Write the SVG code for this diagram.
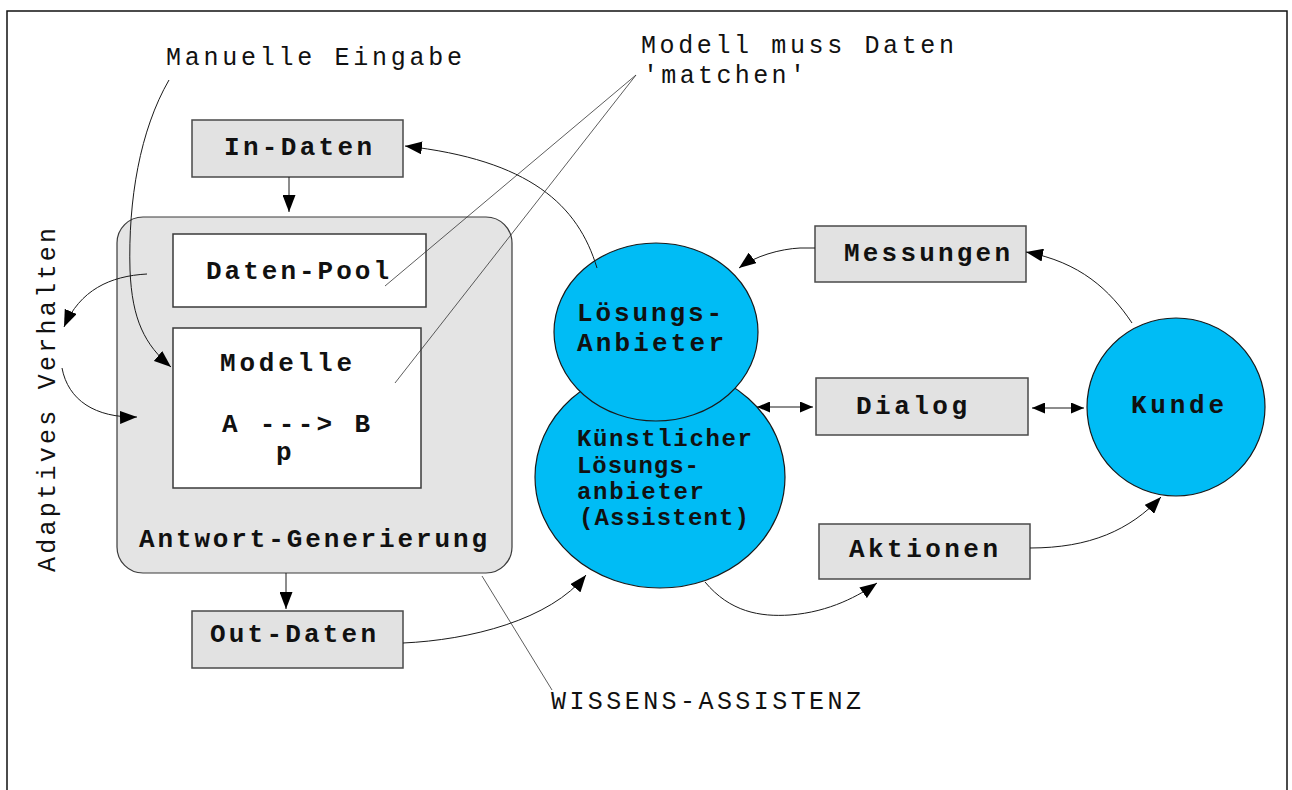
<svg xmlns="http://www.w3.org/2000/svg" width="1292" height="790" viewBox="0 0 1292 790">
  <style>
    .t { font-family: "Liberation Mono", "DejaVu Sans Mono", monospace; font-size: 25px; fill: #111; }
    .b { font-family: "Liberation Mono", "DejaVu Sans Mono", monospace; font-size: 26px; font-weight: bold; fill: #111; }
    .bs { font-family: "Liberation Mono", "DejaVu Sans Mono", monospace; font-size: 24px; font-weight: bold; fill: #111; }
    .box { fill: #e2e2e2; stroke: #4a4a4a; stroke-width: 1.5; }
    .white { fill: #ffffff; stroke: #3a3a3a; stroke-width: 1.5; }
    .panel { fill: #e4e4e4; stroke: #3a3a3a; stroke-width: 1.2; }
    .bubble { fill: #00bcf5; stroke: #1a1a1a; stroke-width: 1.2; }
    .c { fill: none; stroke: #1a1a1a; stroke-width: 1; }
    .lead { fill: none; stroke: #333; stroke-width: 0.8; }
  </style>
  <defs>
    <marker id="ah" viewBox="0 0 17 13" refX="17" refY="6.5" markerWidth="17" markerHeight="13" markerUnits="userSpaceOnUse" orient="auto">
      <path d="M0,0 L17,6.5 L0,13 z" fill="#000"/>
    </marker>
    <marker id="ahs" viewBox="0 0 13 11" refX="13" refY="5.5" markerWidth="13" markerHeight="11" markerUnits="userSpaceOnUse" orient="auto-start-reverse">
      <path d="M0,0 L13,5.5 L0,11 z" fill="#000"/>
    </marker>
  </defs>

  <rect width="1292" height="790" fill="#ffffff"/>
  <!-- frame (open at the bottom) -->
  <path d="M7,791 V11 H1287 V791" fill="none" stroke="#111" stroke-width="1.5"/>

  <!-- free labels -->
  <text class="t" x="166" y="65" textLength="296" lengthAdjust="spacing">Manuelle Eingabe</text>
  <text class="t" x="641" y="53" textLength="313" lengthAdjust="spacing">Modell muss Daten</text>
  <text class="t" x="643" y="83" textLength="162" lengthAdjust="spacing">'matchen'</text>
  <text class="t" x="551" y="709" textLength="310" lengthAdjust="spacing">WISSENS-ASSISTENZ</text>
  <text class="t" transform="translate(55,400) rotate(-90)" text-anchor="middle" textLength="344" lengthAdjust="spacing">Adaptives Verhalten</text>

  <!-- response generation panel -->
  <g id="antwort-generierung">
    <rect class="panel" x="117" y="217" width="395" height="356" rx="26" ry="26"/>
    <text class="b" x="139" y="547" textLength="348" lengthAdjust="spacing">Antwort-Generierung</text>
  </g>
  <g id="daten-pool">
    <rect class="white" x="173" y="234" width="253" height="73"/>
    <text class="b" x="206" y="279" textLength="183" lengthAdjust="spacing">Daten-Pool</text>
  </g>
  <g id="modelle">
    <rect class="white" x="173" y="328" width="248" height="160"/>
    <text class="b" x="220" y="371" textLength="132" lengthAdjust="spacing">Modelle</text>
    <text class="b" x="222" y="432" textLength="148" lengthAdjust="spacing">A ---&gt; B</text>
    <text class="b" x="276" y="460">p</text>
  </g>
  <g id="in-daten">
    <rect class="box" x="192" y="120" width="211" height="57"/>
    <text class="b" x="224" y="155" textLength="148" lengthAdjust="spacing">In-Daten</text>
  </g>
  <g id="out-daten">
    <rect class="box" x="192" y="611" width="211" height="57"/>
    <text class="b" x="210" y="642" textLength="166" lengthAdjust="spacing">Out-Daten</text>
  </g>

  <!-- providers -->
  <g id="kuenstlicher-loesungsanbieter">
    <ellipse class="bubble" cx="660" cy="477" rx="125" ry="111"/>
    <text class="bs" x="577" y="446" textLength="175" lengthAdjust="spacing">Künstlicher</text>
    <text class="bs" x="577" y="473" textLength="122" lengthAdjust="spacing">Lösungs-</text>
    <text class="bs" x="577" y="499" textLength="127" lengthAdjust="spacing">anbieter</text>
    <text class="bs" x="579" y="525" textLength="170" lengthAdjust="spacing">(Assistent)</text>
  </g>
  <g id="loesungs-anbieter">
    <ellipse class="bubble" cx="656" cy="332" rx="102" ry="89"/>
    <text class="b" x="577" y="321" textLength="145" lengthAdjust="spacing">Lösungs-</text>
    <text class="b" x="577" y="351" textLength="147" lengthAdjust="spacing">Anbieter</text>
  </g>
  <g id="messungen">
    <rect class="box" x="815" y="226" width="211" height="56"/>
    <text class="b" x="844" y="261" textLength="166" lengthAdjust="spacing">Messungen</text>
  </g>
  <g id="dialog">
    <rect class="box" x="816" y="378" width="212" height="57"/>
    <text class="b" x="856" y="414" textLength="111" lengthAdjust="spacing">Dialog</text>
  </g>
  <g id="aktionen">
    <rect class="box" x="819" y="524" width="211" height="55"/>
    <text class="b" x="849" y="557" textLength="149" lengthAdjust="spacing">Aktionen</text>
  </g>
  <g id="kunde">
    <ellipse class="bubble" cx="1176" cy="407" rx="89" ry="89"/>
    <text class="b" x="1131" y="413" textLength="93" lengthAdjust="spacing">Kunde</text>
  </g>

  <!-- connectors -->
  <g id="connectors">
    <path class="c" d="M289,177 V212" marker-end="url(#ah)"/>
    <path class="c" d="M286,573 V609" marker-end="url(#ah)"/>
    <path class="c" d="M169,80 C140,130 128,200 130,270 C132,320 145,345 171,367" marker-end="url(#ah)"/>
    <path class="c" d="M147,274 C110,276 80,290 64,327" marker-end="url(#ah)"/>
    <path class="c" d="M62,368 C68,400 95,418 137,417" marker-end="url(#ah)"/>
    <path class="c" d="M597,268 C578,205 530,160 405,146" marker-end="url(#ah)"/>
    <path class="c" d="M815,248 L800,248 C780,249 755,256 739,268" marker-end="url(#ah)"/>
    <path class="c" d="M1132,323 C1110,290 1080,262 1026,252" marker-end="url(#ah)"/>
    <path class="c" d="M1030,548 C1090,548 1130,530 1161,497" marker-end="url(#ah)"/>
    <path class="c" d="M705,582 C730,612 760,617 790,615 C830,612 860,595 877,583" marker-end="url(#ah)"/>
    <path class="c" d="M403,643 C470,640 550,620 586,575" marker-end="url(#ah)"/>
    <path class="c" d="M757,407 L813,407" marker-start="url(#ahs)" marker-end="url(#ahs)"/>
    <path class="c" d="M1032,408 L1084,408" marker-start="url(#ahs)" marker-end="url(#ahs)"/>
    <!-- annotation leaders -->
    <path class="lead" d="M636,75 L385,286"/>
    <path class="lead" d="M636,75 L395,383"/>
    <path class="lead" d="M482,576 L552,690"/>
  </g>
</svg>
